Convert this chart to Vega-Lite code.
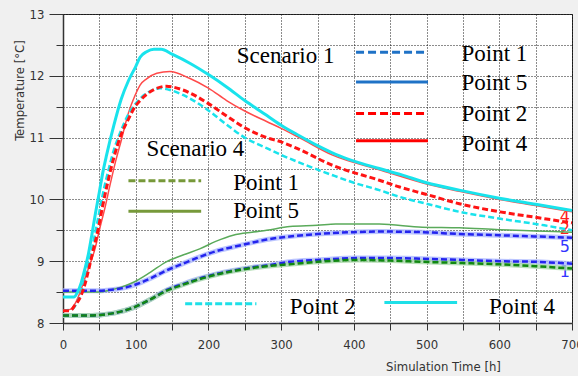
{
  "$schema": "https://vega.github.io/schema/vega-lite/v6.json",
  "width": 509,
  "height": 309,
  "autosize": {"type": "none"},
  "padding": {"left": 63, "top": 14, "right": 6, "bottom": 53},
  "background": "#f0f0f0",
  "config": {
    "view": {"stroke": "#333333", "strokeWidth": 1, "fill": "white"},
    "axis": {
      "labelFont": "DejaVu Sans Condensed",
      "titleFont": "DejaVu Sans Condensed",
      "labelFontSize": 13,
      "titleFontSize": 13,
      "titleFontWeight": "normal",
      "labelColor": "#333333",
      "titleColor": "#333333",
      "domainColor": "#333333",
      "domainWidth": 1.5,
      "tickColor": "#333333",
      "grid": true,
      "gridColor": "#000000",
      "gridDash": [1, 2],
      "gridOpacity": 0.9,
      "labelFlush": false,
      "labelOverlap": false
    }
  },
  "datasets": {
    "curves": [
      {"s":"S4P4","t":0,"T":8.42},{"s":"S4P4","t":15,"T":8.42},{"s":"S4P4","t":20,"T":8.5},{"s":"S4P4","t":25,"T":8.65},{"s":"S4P4","t":30,"T":8.87},{"s":"S4P4","t":35,"T":9.12},{"s":"S4P4","t":40,"T":9.45},{"s":"S4P4","t":45,"T":9.8},{"s":"S4P4","t":50,"T":10.12},{"s":"S4P4","t":55,"T":10.45},{"s":"S4P4","t":60,"T":10.72},{"s":"S4P4","t":70,"T":11.2},{"s":"S4P4","t":80,"T":11.62},{"s":"S4P4","t":90,"T":11.92},{"s":"S4P4","t":100,"T":12.15},{"s":"S4P4","t":106,"T":12.3},{"s":"S4P4","t":115,"T":12.39},{"s":"S4P4","t":125,"T":12.43},{"s":"S4P4","t":135,"T":12.43},{"s":"S4P4","t":150,"T":12.35},{"s":"S4P4","t":175,"T":12.2},{"s":"S4P4","t":200,"T":12.02},{"s":"S4P4","t":225,"T":11.82},{"s":"S4P4","t":250,"T":11.6},{"s":"S4P4","t":280,"T":11.36},{"s":"S4P4","t":300,"T":11.2},{"s":"S4P4","t":325,"T":11.03},{"s":"S4P4","t":350,"T":10.87},{"s":"S4P4","t":375,"T":10.73},{"s":"S4P4","t":400,"T":10.62},{"s":"S4P4","t":435,"T":10.5},{"s":"S4P4","t":465,"T":10.4},{"s":"S4P4","t":500,"T":10.27},{"s":"S4P4","t":545,"T":10.15},{"s":"S4P4","t":600,"T":10.02},{"s":"S4P4","t":650,"T":9.92},{"s":"S4P4","t":700,"T":9.82},
      {"s":"S1P4","t":0,"T":8.2},{"s":"S1P4","t":10,"T":8.22},{"s":"S1P4","t":16,"T":8.3},{"s":"S1P4","t":23,"T":8.48},{"s":"S1P4","t":30,"T":8.72},{"s":"S1P4","t":37,"T":8.95},{"s":"S1P4","t":44,"T":9.2},{"s":"S1P4","t":50,"T":9.5},{"s":"S1P4","t":58,"T":9.88},{"s":"S1P4","t":65,"T":10.25},{"s":"S1P4","t":72,"T":10.6},{"s":"S1P4","t":80,"T":10.95},{"s":"S1P4","t":90,"T":11.4},{"s":"S1P4","t":99,"T":11.68},{"s":"S1P4","t":106,"T":11.85},{"s":"S1P4","t":115,"T":11.95},{"s":"S1P4","t":129,"T":12.04},{"s":"S1P4","t":147,"T":12.07},{"s":"S1P4","t":174,"T":11.96},{"s":"S1P4","t":200,"T":11.8},{"s":"S1P4","t":225,"T":11.6},{"s":"S1P4","t":250,"T":11.43},{"s":"S1P4","t":280,"T":11.26},{"s":"S1P4","t":300,"T":11.15},{"s":"S1P4","t":325,"T":11.0},{"s":"S1P4","t":370,"T":10.72},{"s":"S1P4","t":435,"T":10.48},{"s":"S1P4","t":500,"T":10.25},{"s":"S1P4","t":545,"T":10.13},{"s":"S1P4","t":600,"T":10.0},{"s":"S1P4","t":650,"T":9.9},{"s":"S1P4","t":700,"T":9.8},
      {"s":"S4P2","t":0,"T":8.2},{"s":"S4P2","t":12,"T":8.22},{"s":"S4P2","t":18,"T":8.3},{"s":"S4P2","t":25,"T":8.5},{"s":"S4P2","t":30,"T":8.7},{"s":"S4P2","t":35,"T":8.95},{"s":"S4P2","t":40,"T":9.2},{"s":"S4P2","t":45,"T":9.5},{"s":"S4P2","t":50,"T":9.8},{"s":"S4P2","t":55,"T":10.1},{"s":"S4P2","t":62,"T":10.45},{"s":"S4P2","t":70,"T":10.8},{"s":"S4P2","t":80,"T":11.12},{"s":"S4P2","t":90,"T":11.38},{"s":"S4P2","t":100,"T":11.55},{"s":"S4P2","t":106,"T":11.63},{"s":"S4P2","t":120,"T":11.75},{"s":"S4P2","t":134,"T":11.8},{"s":"S4P2","t":150,"T":11.76},{"s":"S4P2","t":165,"T":11.69},{"s":"S4P2","t":200,"T":11.44},{"s":"S4P2","t":225,"T":11.21},{"s":"S4P2","t":250,"T":11.0},{"s":"S4P2","t":280,"T":10.83},{"s":"S4P2","t":302,"T":10.71},{"s":"S4P2","t":335,"T":10.55},{"s":"S4P2","t":371,"T":10.39},{"s":"S4P2","t":400,"T":10.27},{"s":"S4P2","t":435,"T":10.15},{"s":"S4P2","t":463,"T":10.04},{"s":"S4P2","t":500,"T":9.93},{"s":"S4P2","t":545,"T":9.8},{"s":"S4P2","t":600,"T":9.69},{"s":"S4P2","t":662,"T":9.58},{"s":"S4P2","t":700,"T":9.5},
      {"s":"S1P2","t":0,"T":8.2},{"s":"S1P2","t":10,"T":8.2},{"s":"S1P2","t":16,"T":8.28},{"s":"S1P2","t":25,"T":8.45},{"s":"S1P2","t":30,"T":8.62},{"s":"S1P2","t":35,"T":8.85},{"s":"S1P2","t":40,"T":9.1},{"s":"S1P2","t":48,"T":9.5},{"s":"S1P2","t":55,"T":9.92},{"s":"S1P2","t":62,"T":10.3},{"s":"S1P2","t":70,"T":10.68},{"s":"S1P2","t":80,"T":11.05},{"s":"S1P2","t":90,"T":11.3},{"s":"S1P2","t":99,"T":11.5},{"s":"S1P2","t":106,"T":11.6},{"s":"S1P2","t":124,"T":11.77},{"s":"S1P2","t":142,"T":11.83},{"s":"S1P2","t":165,"T":11.77},{"s":"S1P2","t":200,"T":11.55},{"s":"S1P2","t":225,"T":11.35},{"s":"S1P2","t":250,"T":11.16},{"s":"S1P2","t":280,"T":11.0},{"s":"S1P2","t":300,"T":10.93},{"s":"S1P2","t":321,"T":10.83},{"s":"S1P2","t":371,"T":10.55},{"s":"S1P2","t":435,"T":10.31},{"s":"S1P2","t":463,"T":10.2},{"s":"S1P2","t":500,"T":10.08},{"s":"S1P2","t":545,"T":9.93},{"s":"S1P2","t":600,"T":9.8},{"s":"S1P2","t":650,"T":9.71},{"s":"S1P2","t":700,"T":9.62},
      {"s":"S4P5","t":0,"T":8.5},{"s":"S4P5","t":50,"T":8.5},{"s":"S4P5","t":64,"T":8.53},{"s":"S4P5","t":80,"T":8.58},{"s":"S4P5","t":97,"T":8.66},{"s":"S4P5","t":120,"T":8.82},{"s":"S4P5","t":142,"T":8.99},{"s":"S4P5","t":165,"T":9.1},{"s":"S4P5","t":188,"T":9.2},{"s":"S4P5","t":210,"T":9.32},{"s":"S4P5","t":234,"T":9.42},{"s":"S4P5","t":260,"T":9.47},{"s":"S4P5","t":280,"T":9.5},{"s":"S4P5","t":312,"T":9.56},{"s":"S4P5","t":350,"T":9.58},{"s":"S4P5","t":375,"T":9.6},{"s":"S4P5","t":435,"T":9.6},{"s":"S4P5","t":494,"T":9.55},{"s":"S4P5","t":545,"T":9.54},{"s":"S4P5","t":600,"T":9.51},{"s":"S4P5","t":650,"T":9.49},{"s":"S4P5","t":700,"T":9.47},
      {"s":"S1P5","t":0,"T":8.52},{"s":"S1P5","t":50,"T":8.52},{"s":"S1P5","t":60,"T":8.53},{"s":"S1P5","t":80,"T":8.56},{"s":"S1P5","t":97,"T":8.61},{"s":"S1P5","t":120,"T":8.72},{"s":"S1P5","t":142,"T":8.85},{"s":"S1P5","t":165,"T":8.96},{"s":"S1P5","t":188,"T":9.07},{"s":"S1P5","t":210,"T":9.16},{"s":"S1P5","t":234,"T":9.23},{"s":"S1P5","t":260,"T":9.3},{"s":"S1P5","t":280,"T":9.35},{"s":"S1P5","t":312,"T":9.4},{"s":"S1P5","t":350,"T":9.44},{"s":"S1P5","t":400,"T":9.47},{"s":"S1P5","t":435,"T":9.48},{"s":"S1P5","t":494,"T":9.47},{"s":"S1P5","t":545,"T":9.44},{"s":"S1P5","t":600,"T":9.42},{"s":"S1P5","t":650,"T":9.4},{"s":"S1P5","t":700,"T":9.38},
      {"s":"S1P1","t":0,"T":8.12},{"s":"S1P1","t":30,"T":8.12},{"s":"S1P1","t":51,"T":8.13},{"s":"S1P1","t":70,"T":8.16},{"s":"S1P1","t":97,"T":8.25},{"s":"S1P1","t":120,"T":8.38},{"s":"S1P1","t":142,"T":8.53},{"s":"S1P1","t":165,"T":8.63},{"s":"S1P1","t":188,"T":8.72},{"s":"S1P1","t":210,"T":8.79},{"s":"S1P1","t":234,"T":8.85},{"s":"S1P1","t":260,"T":8.9},{"s":"S1P1","t":280,"T":8.93},{"s":"S1P1","t":312,"T":8.99},{"s":"S1P1","t":350,"T":9.02},{"s":"S1P1","t":405,"T":9.05},{"s":"S1P1","t":450,"T":9.05},{"s":"S1P1","t":494,"T":9.04},{"s":"S1P1","t":550,"T":9.02},{"s":"S1P1","t":600,"T":9.0},{"s":"S1P1","t":650,"T":8.99},{"s":"S1P1","t":700,"T":8.96},
      {"s":"S4P1","t":0,"T":8.12},{"s":"S4P1","t":30,"T":8.12},{"s":"S4P1","t":51,"T":8.13},{"s":"S4P1","t":70,"T":8.16},{"s":"S4P1","t":97,"T":8.25},{"s":"S4P1","t":120,"T":8.38},{"s":"S4P1","t":142,"T":8.52},{"s":"S4P1","t":165,"T":8.62},{"s":"S4P1","t":188,"T":8.71},{"s":"S4P1","t":210,"T":8.78},{"s":"S4P1","t":234,"T":8.84},{"s":"S4P1","t":260,"T":8.89},{"s":"S4P1","t":280,"T":8.92},{"s":"S4P1","t":312,"T":8.95},{"s":"S4P1","t":350,"T":8.99},{"s":"S4P1","t":405,"T":9.02},{"s":"S4P1","t":450,"T":9.01},{"s":"S4P1","t":494,"T":8.99},{"s":"S4P1","t":550,"T":8.97},{"s":"S4P1","t":600,"T":8.95},{"s":"S4P1","t":650,"T":8.92},{"s":"S4P1","t":700,"T":8.88}
    ],
    "legendLines": [
      {"s":"S1P1","t":403,"t2":502,"T":12.38},
      {"s":"S1P5","t":403,"t2":502,"T":11.9},
      {"s":"S1P2","t":403,"t2":502,"T":11.39},
      {"s":"S1P4","t":403,"t2":502,"T":10.95},
      {"s":"S4P1","t":90,"t2":190,"T":10.3},
      {"s":"S4P5","t":90,"t2":190,"T":9.81},
      {"s":"S4P2","t":168,"t2":266,"T":8.31},
      {"s":"S4P4","t":442,"t2":542,"T":8.33}
    ],
    "legendText": [
      {"label":"Scenario 1","t":239,"T":12.2},
      {"label":"Point 1","t":548,"T":12.24},
      {"label":"Point 5","t":548,"T":11.77},
      {"label":"Point 2","t":548,"T":11.27},
      {"label":"Point 4","t":548,"T":10.78},
      {"label":"Scenario 4","t":115,"T":10.71},
      {"label":"Point 1","t":234,"T":10.16},
      {"label":"Point 5","t":234,"T":9.7},
      {"label":"Point 2","t":312,"T":8.15},
      {"label":"Point 4","t":586,"T":8.15}
    ],
    "endLabels": [
      {"label":"4","t":697,"T":9.71},
      {"label":"2","t":697,"T":9.52},
      {"label":"5","t":697,"T":9.23},
      {"label":"1","t":697,"T":8.82}
    ]
  },
  "encoding": {
    "x": {
      "field": "t", "type": "quantitative",
      "scale": {"domain": [0, 700], "nice": false, "zero": false},
      "axis": {
        "values": [0,50,100,150,200,250,300,350,400,450,500,550,600,650,700],
        "labelExpr": "datum.value % 100 === 0 ? format(datum.value, 'd') : ''",
        "tickSize": 7,
        "labelPadding": 8,
        "title": "Simulation Time [h]",
        "titleX": 380,
        "titleY": 47,
        "titleAlign": "center",
        "titleBaseline": "alphabetic"
      }
    },
    "y": {
      "field": "T", "type": "quantitative",
      "scale": {"domain": [8, 13], "nice": false, "zero": false},
      "axis": {
        "values": [8,8.5,9,9.5,10,10.5,11,11.5,12,12.5,13],
        "labelExpr": "datum.value % 1 === 0 ? format(datum.value, 'd') : ''",
        "tickSize": {"condition": {"test": "datum.value % 1 === 0", "value": 14}, "value": 7},
        "labelPadding": 5,
        "title": "Temperature [°C]",
        "titleX": -40,
        "titleY": 76,
        "titleAngle": -90,
        "titleAlign": "center",
        "titleBaseline": "alphabetic"
      }
    }
  },
  "layer": [
    {
      "data": {"name": "endLabels"},
      "transform": [{"filter": "datum.label === '4' || datum.label === '2'"}],
      "mark": {"type": "text", "align": "right", "baseline": "middle", "font": "DejaVu Sans", "fontSize": 16, "color": "#ff2020"},
      "encoding": {"text": {"field": "label"}}
    },
    {
      "data": {"name": "endLabels"},
      "transform": [{"filter": "datum.label === '5' || datum.label === '1'"}],
      "mark": {"type": "text", "align": "right", "baseline": "middle", "font": "DejaVu Sans", "fontSize": 16, "color": "#3333ff"},
      "encoding": {"text": {"field": "label"}}
    },
    {
      "data": {"name": "curves"},
      "transform": [{"filter": "datum.s === 'S1P1' || datum.s === 'S1P5'"}],
      "mark": {"type": "line", "interpolate": "monotone", "color": "#aab6ff", "strokeWidth": 5, "opacity": 0.8},
      "encoding": {"detail": {"field": "s"}}
    },
    {
      "data": {"name": "curves"},
      "transform": [{"filter": "datum.s === 'S4P1'"}],
      "mark": {"type": "line", "interpolate": "monotone", "color": "#a8d8a8", "strokeWidth": 5, "opacity": 0.8},
      "encoding": {}
    },
    {
      "data": {"name": "curves"},
      "transform": [{"filter": "datum.s === 'S4P5'"}],
      "mark": {"type": "line", "interpolate": "monotone", "color": "#5aaa5a", "strokeWidth": 1.5},
      "encoding": {}
    },
    {
      "data": {"name": "curves"},
      "transform": [{"filter": "datum.s === 'S1P1' || datum.s === 'S1P5'"}],
      "mark": {"type": "line", "interpolate": "monotone", "color": "#2424ee", "strokeWidth": 2.5, "strokeDash": [6, 3]},
      "encoding": {"detail": {"field": "s"}}
    },
    {
      "data": {"name": "curves"},
      "transform": [{"filter": "datum.s === 'S4P1'"}],
      "mark": {"type": "line", "interpolate": "monotone", "color": "#118811", "strokeWidth": 2.5, "strokeDash": [6, 3]},
      "encoding": {}
    },
    {
      "data": {"name": "curves"},
      "transform": [{"filter": "datum.s === 'S1P4'"}],
      "mark": {"type": "line", "interpolate": "monotone", "color": "#ff4a4a", "strokeWidth": 1.5},
      "encoding": {}
    },
    {
      "data": {"name": "curves"},
      "transform": [{"filter": "datum.s === 'S4P2'"}],
      "mark": {"type": "line", "interpolate": "monotone", "color": "#19e3ec", "strokeWidth": 2.5, "strokeDash": [6, 3]},
      "encoding": {}
    },
    {
      "data": {"name": "curves"},
      "transform": [{"filter": "datum.s === 'S1P2'"}],
      "mark": {"type": "line", "interpolate": "monotone", "color": "#ff1414", "strokeWidth": 3, "strokeDash": [6, 3]},
      "encoding": {}
    },
    {
      "data": {"name": "curves"},
      "transform": [{"filter": "datum.s === 'S4P4'"}],
      "mark": {"type": "line", "interpolate": "monotone", "color": "#19e3ec", "strokeWidth": 3},
      "encoding": {}
    },
    {
      "data": {"name": "legendLines"},
      "mark": {"type": "rule", "strokeWidth": 3, "strokeCap": "butt"},
      "encoding": {
        "x2": {"field": "t2"},
        "color": {
          "field": "s", "type": "nominal", "legend": null,
          "scale": {
            "domain": ["S1P1","S1P5","S1P2","S1P4","S4P1","S4P5","S4P2","S4P4"],
            "range": ["#1f72c6","#1f72c6","#ff0000","#ff0000","#77993a","#77993a","#1ee0e8","#1ee0e8"]
          }
        },
        "strokeDash": {
          "field": "s", "type": "nominal", "legend": null,
          "scale": {
            "domain": ["S1P1","S1P5","S1P2","S1P4","S4P1","S4P5","S4P2","S4P4"],
            "range": [[8,4],[1,0],[8,4],[1,0],[7,3],[1,0],[7,3],[1,0]]
          }
        }
      }
    },
    {
      "data": {"name": "legendText"},
      "mark": {"type": "text", "align": "left", "baseline": "alphabetic", "font": "Liberation Serif", "fontSize": 23, "color": "#000000"},
      "encoding": {"text": {"field": "label"}}
    }
  ]
}
